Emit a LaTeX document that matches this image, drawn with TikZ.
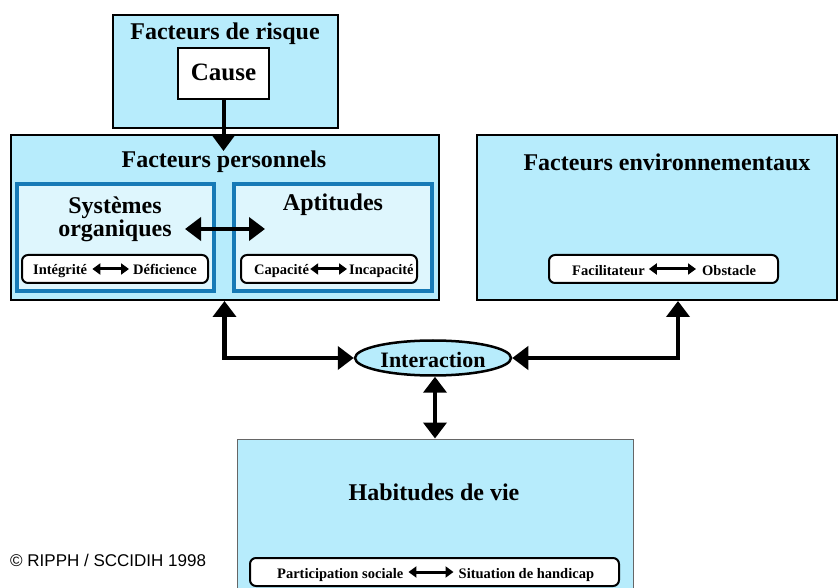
\documentclass[tikz,border=0pt]{standalone}
\usepackage{fontspec}
\setmainfont{Liberation Serif}
\newfontfamily\copyfont{Liberation Sans}
\usetikzlibrary{arrows.meta,shapes.geometric}
\definecolor{outerblue}{RGB}{183,236,252}
\definecolor{innerblue}{RGB}{222,246,253}
\definecolor{frameblue}{RGB}{22,122,182}
\tikzset{
  outerbox/.style={draw=black, line width=2.5pt, fill=outerblue, inner sep=0pt},
  innerbox/.style={draw=frameblue, line width=4pt, fill=innerblue, inner sep=0pt},
  whitebox/.style={draw=black, line width=2.5pt, fill=white, inner sep=0pt},
  pill/.style={draw=black, line width=2pt, fill=white, rounded corners=6pt, inner sep=0pt, minimum height=28pt},
  title/.style={inner sep=0pt, anchor=base, font=\fontsize{24}{23}\selectfont\bfseries},
  pilltext/.style={inner sep=0pt, anchor=base west, font=\fontsize{14.5}{16}\selectfont\bfseries},
  bigdouble/.style={line width=4.5pt, {Triangle[length=16pt,width=23pt]}-{Triangle[length=16pt,width=23pt]}},
  smalldouble/.style={line width=3pt, {Triangle[length=8pt,width=11pt]}-{Triangle[length=8pt,width=11pt]}}
}
\begin{document}
\begin{tikzpicture}[x=1pt,y=-1pt]
\clip (0,0) rectangle (839,588);
\fill[white] (0,0) rectangle (839,588);

% Facteurs de risque
\node[outerbox, minimum width=225pt, minimum height=113pt] (risk) at (225.5,71.5) {};
\node[title] (risklbl) at (225,40) {Facteurs de risque};
\node[whitebox, minimum width=91pt, minimum height=51pt] (cause) at (223.5,73.5) {};
\node[title, font=\fontsize{25}{25}\selectfont\bfseries] (causelbl) at (223.5,81) {Cause};

% Facteurs personnels
\node[outerbox, minimum width=428pt, minimum height=165pt] (fp) at (225,217.5) {};
\node[title] (fplbl) at (224,168) {Facteurs personnels};
\node[innerbox, minimum width=197pt, minimum height=107pt] (sys) at (115.5,237.5) {};
\node[innerbox, minimum width=198pt, minimum height=107pt] (apt) at (333,237.5) {};
\node[title, align=center] (syslbl) at (115,237) {Systèmes\\organiques};
\node[title] (aptlbl) at (333,211) {Aptitudes};
\coordinate (sysarr) at (185,229);
\coordinate (aptarr) at (265,229);
\draw[bigdouble] (sysarr) -- (aptarr);

\node[pill, minimum width=186pt] (pill1) at (115,269) {};
\node[pilltext] (integ) at (33,275) {Intégrité};
\node[pilltext] (defic) at (133,275) {Déficience};
\draw[smalldouble] ([xshift=5pt]integ.east |- pill1.center) -- ([xshift=-4pt]defic.west |- pill1.center);

\node[pill, minimum width=176pt] (pill2) at (329,269) {};
\node[pilltext] (capa) at (254,275) {Capacité};
\node[pilltext] (incapa) at (349,275) {Incapacité};
\draw[smalldouble] ([xshift=1pt]capa.east |- pill2.center) -- ([xshift=-2pt]incapa.west |- pill2.center);

% Cause -> Facteurs personnels
\coordinate (fptop) at (223.5,151);
\draw[line width=4pt, -{Triangle[length=15pt,width=21pt]}] (cause.south) -- (fptop);

% Facteurs environnementaux
\node[outerbox, minimum width=360pt, minimum height=165pt] (env) at (657,217.5) {};
\node[title] (envlbl) at (667,171) {Facteurs environnementaux};
\node[pill, minimum width=229pt] (pill3) at (663.5,269) {};
\node[pilltext] (facil) at (572,276) {Facilitateur};
\node[pilltext] (obst) at (702,276) {Obstacle};
\draw[smalldouble] ([xshift=4pt]facil.east |- pill3.center) -- ([xshift=-6pt]obst.west |- pill3.center);

% Interaction
\node[ellipse, draw=black, line width=2.5pt, fill=outerblue, minimum width=156pt, minimum height=35pt, inner sep=0pt] (inter) at (433,358) {};
\node[title, font=\fontsize{22}{22}\selectfont\bfseries] (interlbl) at (433,367) {Interaction};

\coordinate (fpbot) at (224.5,301);
\coordinate (envbot) at (678,301);
\draw[bigdouble] (fpbot) |- (inter.west);
\draw[bigdouble] (envbot) |- (inter.east);

% Habitudes de vie
\node[draw=black!60, line width=1pt, fill=outerblue, inner sep=0pt, minimum width=396pt, minimum height=160pt] (hab) at (435,519) {};
\node[title] (hablbl) at (434,500) {Habitudes de vie};
\draw[bigdouble] ([xshift=2pt]inter.south) -- ([xshift=2pt]inter.south |- hab.north);

\node[pill, minimum width=369pt] (pill4) at (434.5,572) {};
\node[pilltext] (partic) at (277,578) {Participation sociale};
\node[pilltext] (situ) at (458.5,578) {Situation de handicap};
\draw[smalldouble] ([xshift=5pt]partic.east |- pill4.center) -- ([xshift=-5pt]situ.west |- pill4.center);

% Copyright
\node[inner sep=0pt, anchor=base west, font=\copyfont\fontsize{17}{17}\selectfont] (copy) at (10,566) {© RIPPH / SCCIDIH 1998};
\end{tikzpicture}
\end{document}
